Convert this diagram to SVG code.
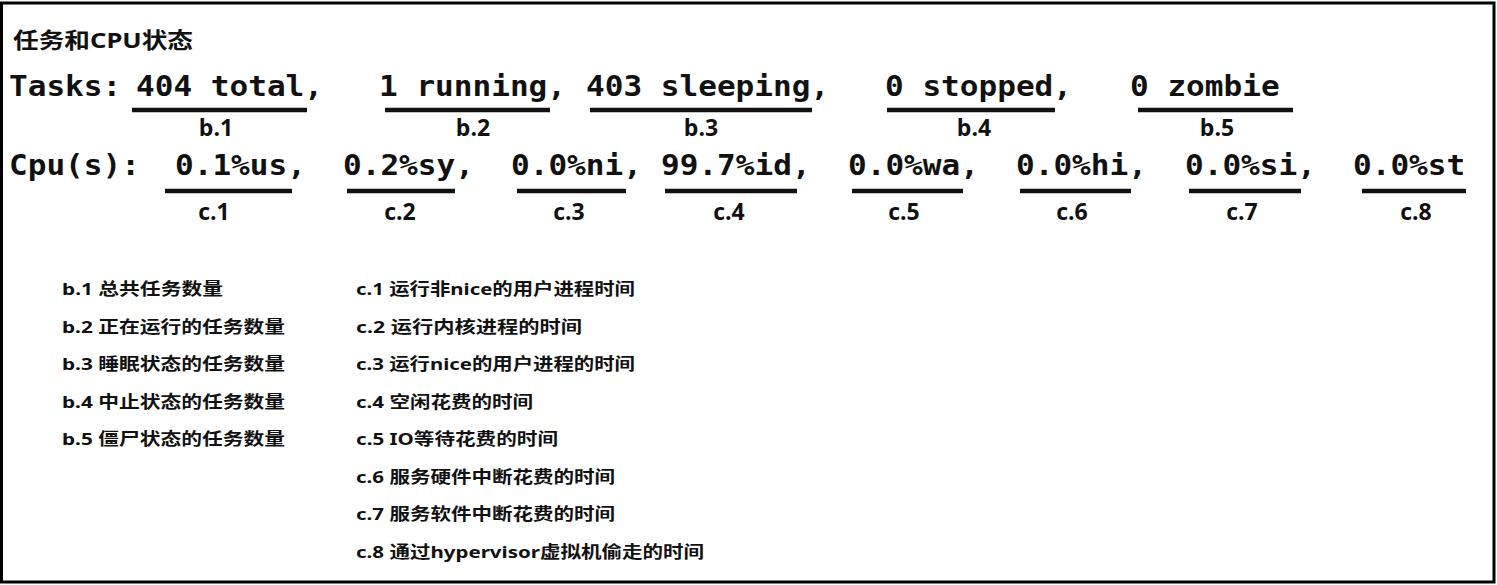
<svg xmlns="http://www.w3.org/2000/svg" width="1497" height="585" viewBox="0 0 1497 585">
  <style>
    .mono { font-family: "DejaVu Sans Mono", "Liberation Mono", monospace; font-weight: bold; font-size: 29px; fill: #111; }
    .lbl { font-family: "Open Sans", "DejaVu Sans", sans-serif; font-weight: 700; font-size: 23px; fill: #111; text-anchor: middle; }
    .leg { font-family: "Noto Sans", "Noto Sans CJK SC", sans-serif; font-weight: bold; font-size: 16.5px; fill: #111; }
    .title { font-family: "Noto Sans", "Noto Sans CJK SC", sans-serif; font-weight: bold; font-size: 22px; fill: #111; }
    .ul { stroke: #111; stroke-width: 4.5; fill: none; }
  </style>
  <rect x="0" y="0" width="1497" height="585" fill="#fff"/>
  <rect x="1.5" y="3" width="1492.5" height="579" fill="none" stroke="#000" stroke-width="3"/>

  <text id="title" class="title" x="13" y="48" textLength="180" lengthAdjust="spacingAndGlyphs">任务和CPU状态</text>

  <g id="tasks-row">
    <text class="mono" x="9" y="96" textLength="112.2" lengthAdjust="spacingAndGlyphs">Tasks:</text>
    <g id="b1">
      <text class="mono" x="136" y="96" textLength="187" lengthAdjust="spacingAndGlyphs">404 total,</text>
      <line class="ul" x1="132" y1="110" x2="307" y2="110"/>
      <text class="lbl" x="216" y="136">b.1</text>
    </g>
    <g id="b2">
      <text class="mono" x="379" y="96" textLength="187" lengthAdjust="spacingAndGlyphs">1 running,</text>
      <line class="ul" x1="385" y1="110" x2="550" y2="110"/>
      <text class="lbl" x="473" y="136">b.2</text>
    </g>
    <g id="b3">
      <text class="mono" x="586" y="96" textLength="243.1" lengthAdjust="spacingAndGlyphs">403 sleeping,</text>
      <line class="ul" x1="590" y1="110" x2="812" y2="110"/>
      <text class="lbl" x="701" y="136">b.3</text>
    </g>
    <g id="b4">
      <text class="mono" x="885" y="96" textLength="187" lengthAdjust="spacingAndGlyphs">0 stopped,</text>
      <line class="ul" x1="887" y1="110" x2="1055" y2="110"/>
      <text class="lbl" x="974" y="136">b.4</text>
    </g>
    <g id="b5">
      <text class="mono" x="1130" y="96" textLength="149.6" lengthAdjust="spacingAndGlyphs">0 zombie</text>
      <line class="ul" x1="1138" y1="110" x2="1293" y2="110"/>
      <text class="lbl" x="1217" y="136">b.5</text>
    </g>
  </g>

  <g id="cpu-row">
    <text class="mono" x="9" y="175" textLength="130.9" lengthAdjust="spacingAndGlyphs">Cpu(s):</text>
    <g id="c1">
      <text class="mono" x="175" y="175" textLength="130.9" lengthAdjust="spacingAndGlyphs">0.1%us,</text>
      <line class="ul" x1="165" y1="191" x2="292" y2="191"/>
      <text class="lbl" x="214" y="220">c.1</text>
    </g>
    <g id="c2">
      <text class="mono" x="343" y="175" textLength="130.9" lengthAdjust="spacingAndGlyphs">0.2%sy,</text>
      <line class="ul" x1="347" y1="191" x2="455" y2="191"/>
      <text class="lbl" x="400" y="220">c.2</text>
    </g>
    <g id="c3">
      <text class="mono" x="511" y="175" textLength="130.9" lengthAdjust="spacingAndGlyphs">0.0%ni,</text>
      <line class="ul" x1="517" y1="191" x2="626" y2="191"/>
      <text class="lbl" x="569" y="220">c.3</text>
    </g>
    <g id="c4">
      <text class="mono" x="661" y="175" textLength="149.6" lengthAdjust="spacingAndGlyphs">99.7%id,</text>
      <line class="ul" x1="665" y1="191" x2="797" y2="191"/>
      <text class="lbl" x="729" y="220">c.4</text>
    </g>
    <g id="c5">
      <text class="mono" x="848" y="175" textLength="130.9" lengthAdjust="spacingAndGlyphs">0.0%wa,</text>
      <line class="ul" x1="852" y1="191" x2="963" y2="191"/>
      <text class="lbl" x="904" y="220">c.5</text>
    </g>
    <g id="c6">
      <text class="mono" x="1016" y="175" textLength="130.9" lengthAdjust="spacingAndGlyphs">0.0%hi,</text>
      <line class="ul" x1="1020" y1="191" x2="1131" y2="191"/>
      <text class="lbl" x="1072" y="220">c.6</text>
    </g>
    <g id="c7">
      <text class="mono" x="1185" y="175" textLength="130.9" lengthAdjust="spacingAndGlyphs">0.0%si,</text>
      <line class="ul" x1="1189" y1="191" x2="1301" y2="191"/>
      <text class="lbl" x="1242" y="220">c.7</text>
    </g>
    <g id="c8">
      <text class="mono" x="1353" y="175" textLength="112.2" lengthAdjust="spacingAndGlyphs">0.0%st</text>
      <line class="ul" x1="1362" y1="191" x2="1466" y2="191"/>
      <text class="lbl" x="1416" y="220">c.8</text>
    </g>
  </g>

  <g id="legend-b">
    <text class="leg" x="62" y="295" textLength="161" lengthAdjust="spacingAndGlyphs">b.1 总共任务数量</text>
    <text class="leg" x="62" y="332.5" textLength="223" lengthAdjust="spacingAndGlyphs">b.2 正在运行的任务数量</text>
    <text class="leg" x="62" y="370" textLength="223" lengthAdjust="spacingAndGlyphs">b.3 睡眠状态的任务数量</text>
    <text class="leg" x="62" y="407.5" textLength="223" lengthAdjust="spacingAndGlyphs">b.4 中止状态的任务数量</text>
    <text class="leg" x="62" y="445" textLength="223" lengthAdjust="spacingAndGlyphs">b.5 僵尸状态的任务数量</text>
  </g>

  <g id="legend-c">
    <text class="leg" x="356" y="295" textLength="279" lengthAdjust="spacingAndGlyphs">c.1 运行非nice的用户进程时间</text>
    <text class="leg" x="356" y="332.5" textLength="226" lengthAdjust="spacingAndGlyphs">c.2 运行内核进程的时间</text>
    <text class="leg" x="356" y="370" textLength="279" lengthAdjust="spacingAndGlyphs">c.3 运行nice的用户进程的时间</text>
    <text class="leg" x="356" y="407.5" textLength="177" lengthAdjust="spacingAndGlyphs">c.4 空闲花费的时间</text>
    <text class="leg" x="356" y="445" textLength="202" lengthAdjust="spacingAndGlyphs">c.5 IO等待花费的时间</text>
    <text class="leg" x="356" y="482.5" textLength="259" lengthAdjust="spacingAndGlyphs">c.6 服务硬件中断花费的时间</text>
    <text class="leg" x="356" y="520" textLength="259" lengthAdjust="spacingAndGlyphs">c.7 服务软件中断花费的时间</text>
    <text class="leg" x="356" y="557.5" textLength="348" lengthAdjust="spacingAndGlyphs">c.8 通过hypervisor虚拟机偷走的时间</text>
  </g>
</svg>
